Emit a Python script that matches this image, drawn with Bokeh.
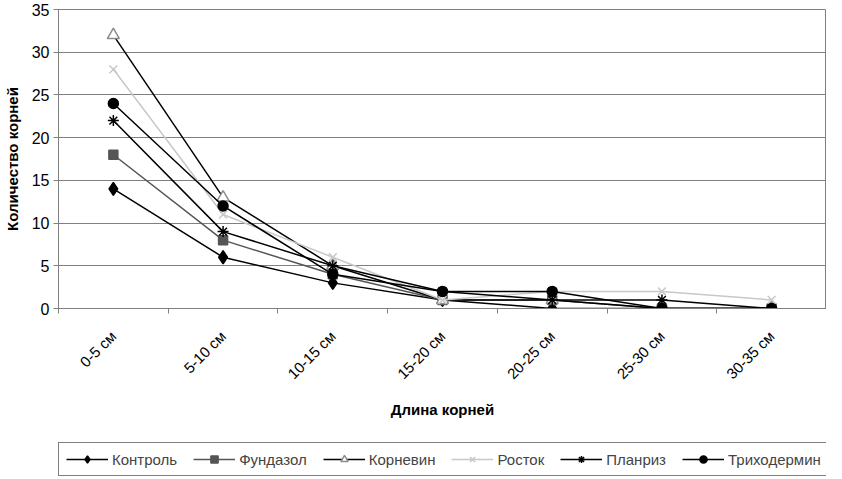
import math
from bokeh.plotting import figure
from bokeh.layouts import column
from bokeh.models import Legend, LegendItem, FixedTicker, Range1d
from bokeh.embed import file_html
from bokeh.resources import INLINE

categories = ["0-5 см", "5-10 см", "10-15 см", "15-20 см", "20-25 см", "25-30 см", "30-35 см"]
series_names = ["Контроль", "Фундазол", "Корневин", "Росток", "Планриз", "Триходермин"]
kontrol = [14, 6, 3, 1, 0, 0, 0]
fundazol = [18, 8, 4, 1, 1, 0, 0]
kornevin = [32, 13, 5, 1, 1, 0, 0]
rostok = [28, 11, 6, 1, 2, 2, 1]
planriz = [22, 9, 5, 2, 1, 1, 0]
trihodermin = [24, 12, 4, 2, 2, 0, 0]
y_ticks = [0, 5, 10, 15, 20, 25, 30, 35]

FONT = "Liberation Sans"

p = figure(width=826, height=436, output_backend="svg", toolbar_location=None,
           x_range=Range1d(0, len(categories)), y_range=Range1d(0, 35),
           min_border_left=49, min_border_right=0, min_border_top=9, min_border_bottom=128)
p.background_fill_color = "white"
p.border_fill_color = "white"
p.outline_line_color = "#808080"
p.outline_line_width = 1

xs = [i + 0.5 for i in range(len(categories))]

# axes
p.xaxis.ticker = FixedTicker(ticks=xs, minor_ticks=list(range(len(categories) + 1)))
p.xaxis.major_label_overrides = {x: c for x, c in zip(xs, categories)}
p.xaxis.major_label_orientation = math.pi / 4
p.xaxis.major_tick_out = 0
p.xaxis.major_tick_in = 0
p.xaxis.minor_tick_out = 5
p.xaxis.minor_tick_in = 0
p.xaxis.minor_tick_line_color = "#808080"
p.xaxis.axis_line_color = "#808080"
p.xaxis.axis_label = "Длина корней"
p.xaxis.major_label_text_font = FONT
p.xaxis.major_label_text_font_size = "15px"
p.xaxis.major_label_text_color = "black"
p.xaxis.major_label_standoff = 20
p.xaxis.axis_label_text_font = FONT
p.xaxis.axis_label_text_font_size = "15px"
p.xaxis.axis_label_text_font_style = "bold"
p.xaxis.axis_label_text_color = "black"
p.xaxis.axis_label_standoff = 10

p.yaxis.ticker = FixedTicker(ticks=y_ticks, minor_ticks=[])
p.yaxis.axis_label = "Количество корней"
p.yaxis.major_tick_out = 5
p.yaxis.major_tick_in = 0
p.yaxis.major_tick_line_color = "#808080"
p.yaxis.axis_line_color = "#808080"
p.yaxis.major_label_text_font = FONT
p.yaxis.major_label_text_font_size = "16px"
p.yaxis.major_label_text_color = "black"
p.yaxis.major_label_standoff = 4
p.yaxis.axis_label_text_font = FONT
p.yaxis.axis_label_text_font_size = "15px"
p.yaxis.axis_label_text_font_style = "bold"
p.yaxis.axis_label_text_color = "black"
p.yaxis.axis_label_standoff = 8

p.xgrid.grid_line_color = None
p.ygrid.ticker = FixedTicker(ticks=y_ticks)
p.ygrid.grid_line_color = "#808080"
p.ygrid.grid_line_width = 1

styles = [
    (kontrol, "black", "diamond", 13, "black", "black"),
    (fundazol, "#555555", "square", 9, "#555555", "#555555"),
    (kornevin, "black", "triangle", 12, "#8c8c8c", "white"),
    (rostok, "#c8c8c8", "x", 11, "#c8c8c8", None),
    (planriz, "black", "asterisk", 11, "black", None),
    (trihodermin, "black", "circle", 10, "black", "black"),
]

# separate strip holding the legend (its own copies of the series lie outside its view)
lg = figure(width=826, height=42, output_backend="svg", toolbar_location=None,
            x_range=Range1d(0, len(categories)), y_range=Range1d(-200, -100),
            min_border_left=0, min_border_right=0, min_border_top=0, min_border_bottom=0)
lg.axis.visible = False
lg.grid.grid_line_color = None
lg.outline_line_color = None
lg.background_fill_color = "white"
lg.border_fill_color = "white"

items = []
for name, (vals, lc, marker, size, mlc, mfc) in zip(series_names, styles):
    kw = dict(marker=marker, size=size, line_color=mlc, line_width=1.5)
    if mfc is None:
        kw["fill_alpha"] = 0
    else:
        kw["fill_color"] = mfc
    p.line(xs, vals, line_color=lc, line_width=1.5)
    p.scatter(xs, vals, **kw)
    l1 = lg.line(xs, vals, line_color=lc, line_width=1.5)
    l2 = lg.scatter(xs, vals, **kw)
    items.append(LegendItem(label=name, renderers=[l1, l2]))

legend = Legend(items=items, orientation="horizontal", location=(0, 2),
                label_text_font=FONT, label_text_font_size="15px",
                glyph_width=42, glyph_height=18, spacing=16, label_standoff=4,
                border_line_color="black", border_line_width=1,
                padding=7, margin=0, label_height=18)
lg.add_layout(legend, "center")

layout = column(p, lg, spacing=0)
open("out.html", "w").write(file_html(layout, INLINE))
